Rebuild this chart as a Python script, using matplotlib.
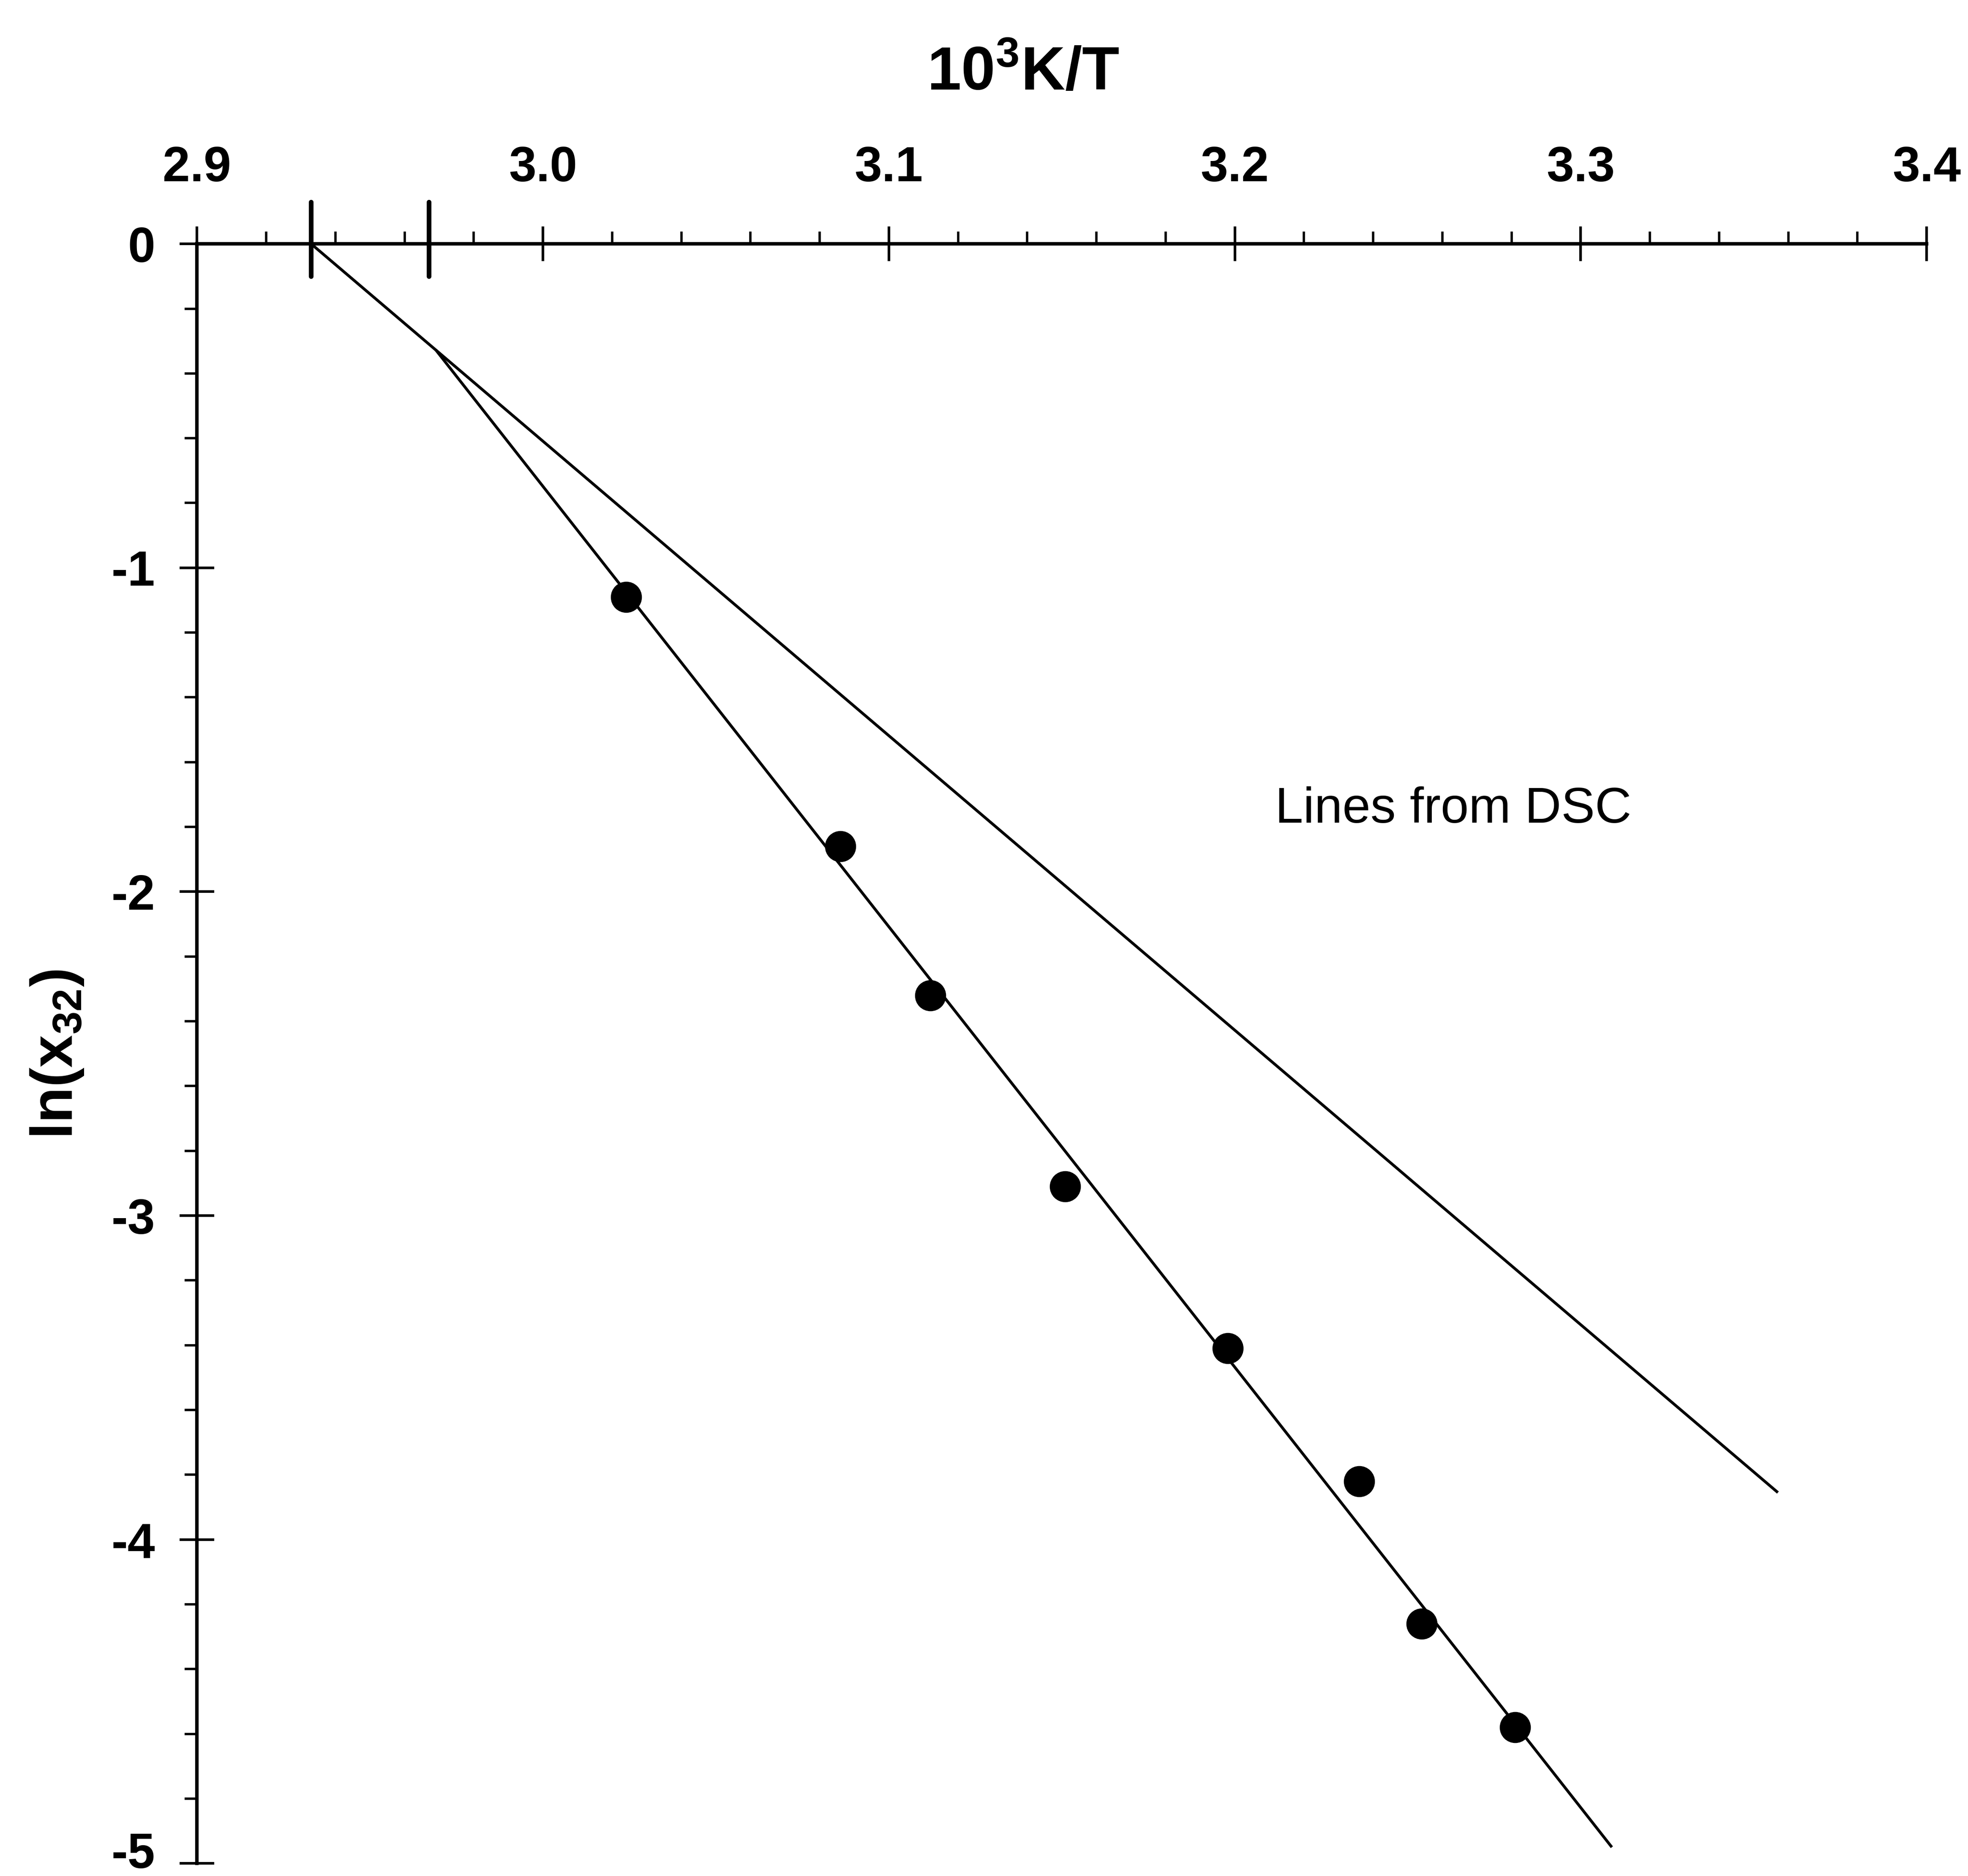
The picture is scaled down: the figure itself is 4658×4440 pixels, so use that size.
import numpy as np
import matplotlib
matplotlib.use('Agg')
import matplotlib.pyplot as plt
import matplotlib.transforms as mtransforms
from matplotlib.ticker import MultipleLocator

plt.rcParams['font.family'] = ['Liberation Sans', 'DejaVu Sans']
plt.rcParams['axes.unicode_minus'] = False
plt.rcParams['mathtext.fontset'] = 'custom'
plt.rcParams['mathtext.rm'] = 'Liberation Sans:bold'
plt.rcParams['mathtext.default'] = 'rm'

# 측정점 (1000/T, ln x32)
x_pts = [3.024, 3.086, 3.112, 3.151, 3.198, 3.236, 3.254, 3.281]
y_pts = [-1.09, -1.86, -2.32, -2.91, -3.41, -3.82, -4.26, -4.58]

# DSC 선 (양 끝점)
dsc1_x = [2.933, 3.357]
dsc1_y = [0.0, -3.855]
dsc2_x = [2.969, 3.309]
dsc2_y = [-0.327, -4.95]

# 녹는점 표시
melt_x = [2.933, 2.967]

x_ticks = [2.9, 3.0, 3.1, 3.2, 3.3, 3.4]
x_labels = ['2.9', '3.0', '3.1', '3.2', '3.3', '3.4']
y_ticks = [-5, -4, -3, -2, -1, 0]
y_labels = ['-5', '-4', '-3', '-2', '-1', '0']

fig = plt.figure(figsize=(46.58, 44.40), dpi=100)
ax = fig.add_axes([0.1001, 0.0067, 0.8789, 0.8633])

ax.plot(dsc1_x, dsc1_y, color='black', lw=4.8, solid_capstyle='butt')
ax.plot(dsc2_x, dsc2_y, color='black', lw=4.8, solid_capstyle='butt')
ax.plot(x_pts, y_pts, 'o', color='black', markersize=52, zorder=3)

for mx in melt_x:
    ax.plot([mx, mx], [0.13, -0.10], color='black', lw=8, clip_on=False,
            solid_capstyle='round')

ax.set_xlim(2.9, 3.4)
ax.set_ylim(-5, 0)

ax.spines['bottom'].set_visible(False)
ax.spines['right'].set_visible(False)
ax.spines['top'].set_linewidth(6)
ax.spines['left'].set_linewidth(6)

ax.xaxis.tick_top()
ax.set_xticks(x_ticks)
ax.set_xticklabels(x_labels)
ax.set_yticks(y_ticks)
ax.set_yticklabels(y_labels)
ax.xaxis.set_minor_locator(MultipleLocator(0.02))
ax.yaxis.set_minor_locator(MultipleLocator(0.2))

ax.tick_params(axis='x', which='major', direction='inout', length=59, width=4.5,
               pad=60, labelsize=84)
ax.tick_params(axis='y', which='major', direction='inout', length=59, width=4.5,
               pad=42, labelsize=84)
ax.tick_params(which='minor', direction='out', length=21, width=4)
for lab in ax.get_xticklabels() + ax.get_yticklabels():
    lab.set_fontweight('bold')

# 맨 아래 '-5' 라벨이 잘리지 않도록 살짝 올림
ylabs = ax.get_yticklabels()
ylabs[0].set_transform(ylabs[0].get_transform() +
                       mtransforms.ScaledTranslation(0, 0.32, fig.dpi_scale_trans))

ax.text(3.2116, -1.747, 'Lines from DSC', fontsize=86, ha='left', va='center')

fig.text(0.520, 0.952, '10$^3$K/T', fontsize=104, fontweight='bold',
         ha='center', va='baseline')
fig.text(0.029, 0.438, 'ln(x$_{32}$)', fontsize=100, fontweight='bold',
         rotation=90, ha='center', va='center')

fig.savefig('out.png', dpi=100, facecolor='white')
